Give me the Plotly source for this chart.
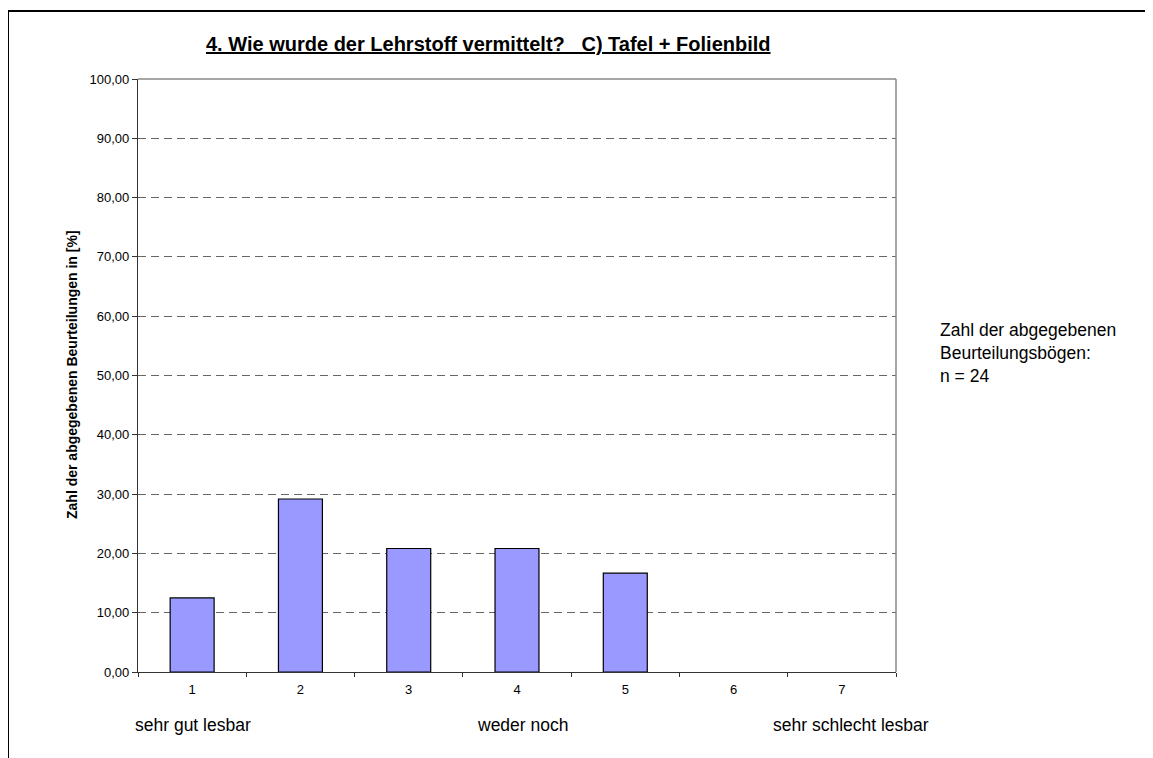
import plotly.graph_objects as go

categories = [1, 2, 3, 4, 5, 6, 7]
values = [12.50, 29.17, 20.83, 20.83, 16.67, 0.0, 0.0]
y_ticks = [0, 10, 20, 30, 40, 50, 60, 70, 80, 90, 100]

OFF = 8  # page body margin offset
W, H = 1153 - OFF, 758 - OFF
L, R, T, B = 138 - OFF, 896 - OFF, 79 - OFF, 672 - OFF
pw, ph = R - L, B - T

def px(x):
    return (x - OFF - L) / pw

def py(y):
    return (B - (y - OFF)) / ph

fig = go.Figure()
fig.add_trace(go.Bar(
    x=categories, y=values,
    marker=dict(color="#9999FF",
                line=dict(color="#000000", width=[1.2 if v > 0 else 0 for v in values])),
    hoverinfo="x+y",
))

fig.update_layout(
    width=W, height=H,
    margin=dict(l=L, r=W - R, t=T, b=H - B, autoexpand=False),
    paper_bgcolor="white", plot_bgcolor="white",
    separators=",.",
    bargap=0.594,
    showlegend=False,
    font=dict(family="Arial, Liberation Sans, sans-serif", color="#000000"),
)

fig.update_xaxes(
    range=[0.5, 7.5],
    tickmode="array", tickvals=categories, ticktext=[str(c) for c in categories],
    ticks="", showgrid=False, zeroline=False,
    showline=True, linecolor="#333333", linewidth=1.2,
    tickfont=dict(size=13),
    ticklabelstandoff=5,
    minor=dict(tick0=0.5, dtick=1, ticks="outside", ticklen=4, tickcolor="#333333", showgrid=False),
)

fig.update_yaxes(
    range=[0, 100],
    tickmode="array", tickvals=y_ticks, ticktext=[f"{v:.2f}".replace(".", ",") for v in y_ticks],
    ticks="outside", ticklen=5, tickcolor="#333333",
    showgrid=True, gridcolor="#666666", gridwidth=1, griddash="8px,5px",
    zeroline=False,
    showline=True, linecolor="#333333", linewidth=1.2,
    tickfont=dict(size=13),
)

shapes = [
    # plot frame top and right (gray)
    dict(type="line", xref="paper", yref="paper", x0=0, x1=1, y0=1, y1=1,
         line=dict(color="#888888", width=1.5)),
    dict(type="line", xref="paper", yref="paper", x0=1, x1=1, y0=0, y1=1,
         line=dict(color="#888888", width=1.5)),
    # outer frame top and left
    dict(type="line", xref="paper", yref="paper", x0=px(7), x1=px(1160), y0=py(11), y1=py(11),
         line=dict(color="#000000", width=2)),
    dict(type="line", xref="paper", yref="paper", x0=px(8), x1=px(8), y0=py(10), y1=py(765),
         line=dict(color="#000000", width=2)),
]
fig.update_layout(shapes=shapes)

annotations = [
    dict(text="<b><u>4. Wie wurde der Lehrstoff vermittelt?&nbsp;&nbsp; C) Tafel + Folienbild</u></b>",
         x=px(488), y=py(44), xanchor="center", yanchor="middle",
         font=dict(size=20)),
    dict(text="<b>Zahl der abgegebenen Beurteilungen in [%]</b>",
         x=px(72), y=py(375), xanchor="center", yanchor="middle", textangle=-90,
         font=dict(size=14)),
    dict(text="sehr gut lesbar", x=px(133), y=py(725), xanchor="left", yanchor="middle",
         font=dict(size=17.5)),
    dict(text="weder noch", x=px(522), y=py(725), xanchor="center", yanchor="middle",
         font=dict(size=17.5)),
    dict(text="sehr schlecht lesbar", x=px(771), y=py(725), xanchor="left", yanchor="middle",
         font=dict(size=17.5)),
    dict(text="Zahl der abgegebenen<br>Beurteilungsbögen:<br>n = 24", x=px(938), y=py(353),
         xanchor="left", yanchor="middle", align="left",
         font=dict(size=17.5)),
]
for a in annotations:
    a.update(xref="paper", yref="paper", showarrow=False)
fig.update_layout(annotations=annotations)

fig.write_html("out.html")
